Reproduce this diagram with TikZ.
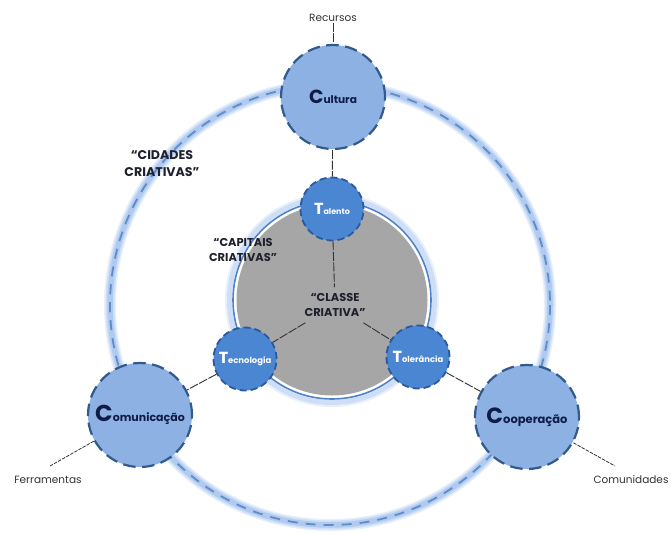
\documentclass[tikz,border=0pt]{standalone}
\usepackage{fontspec}
\setmainfont{Poppins}
\definecolor{bigfill}{RGB}{141,177,227}
\definecolor{bigline}{RGB}{50,90,140}
\definecolor{tfill}{RGB}{74,134,210}
\definecolor{tline}{RGB}{45,88,155}
\definecolor{navy}{RGB}{16,28,72}
\definecolor{txtgrey}{RGB}{50,50,55}
\definecolor{headtxt}{RGB}{30,32,45}
\definecolor{graydisc}{RGB}{166,166,166}
\definecolor{glowa}{RGB}{232,240,252}
\definecolor{glowb}{RGB}{205,222,246}
\definecolor{glowc}{RGB}{176,202,240}
\definecolor{ringdash}{RGB}{96,140,200}
\definecolor{ringline}{RGB}{80,130,200}
\tikzset{
  bignode/.style={circle,draw=bigline,fill=bigfill,line width=2.2pt,dash pattern=on 12.5pt off 6.5pt,minimum size=104pt,inner sep=0pt,text=navy,font=\bfseries},
  talnode/.style={circle,draw=tline,fill=tfill,line width=1.8pt,dash pattern=on 7pt off 4pt,minimum size=63pt,inner sep=0pt,text=white,font=\bfseries},
  plainlabel/.style={text=txtgrey,font=\fontsize{10.5}{12}\selectfont,inner sep=1pt},
  headlabel/.style={text=headtxt,font=\fontsize{11.4}{15}\selectfont\bfseries,align=center,inner sep=1pt},
  cityhead/.style={text=headtxt,font=\fontsize{12.6}{17}\selectfont\bfseries,align=center,inner sep=1pt},
  linkline/.style={draw=black!80,line width=0.9pt,dash pattern=on 9pt off 1.5pt},
  thinlink/.style={draw=black!80,line width=0.8pt,dash pattern=on 3.5pt off 1.2pt}
}
\newcommand{\capword}[4]{{\fontsize{#3}{13}\selectfont #1}{\fontsize{#4}{13}\selectfont #2}}
\begin{document}
\begin{tikzpicture}[x=1pt,y=-1pt]
\useasboundingbox (0,0) rectangle (671,533);
% outer ring
\coordinate (ringc) at (330,305);
\draw[glowa,line width=12pt] (ringc) circle (220);
\draw[glowb,line width=9pt] (ringc) circle (220);
\draw[glowc,line width=5.5pt] (ringc) circle (220);
\draw[ringdash,line width=1.8pt,dash pattern=on 10pt off 8pt] (ringc) circle (220);
% inner disc
\coordinate (discc) at (332,300);
\draw[glowa,line width=10pt] (discc) circle (102);
\draw[glowb,line width=6pt] (discc) circle (102);
\fill[white] (discc) circle (100);
\draw[ringline,line width=1.6pt] (discc) circle (99);
\fill[graydisc] (discc) circle (95.5);
% nodes
\node[bignode] (cult) at (333,97) {\capword{C}{ultura}{19}{10.6}};
\node[bignode] (comu) at (140,415) {\capword{C}{omunicação}{23}{11}};
\node[bignode] (coop) at (527,417) {\capword{C}{ooperação}{22}{11.5}};
\node[talnode] (tale) at (332,209) {\capword{T}{alento}{16}{8}};
\node[talnode] (tecn) at (245,359) {\capword{T}{ecnologia}{16}{8.4}};
\node[talnode] (tole) at (418,357) {\capword{T}{olerância}{16}{8.4}};
\node[plainlabel] (recu) at (333,18) {Recursos};
\node[plainlabel] (ferr) at (48,480) {Ferramentas};
\node[plainlabel] (comd) at (631,480) {Comunidades};
\node[cityhead] (cida) at (162,164) {“CIDADES\\CRIATIVAS”};
\node[headlabel] (capi) at (243,250) {“CAPITAIS\\CRIATIVAS”};
\node[headlabel,inner sep=6pt] (clas) at (335,305) {“CLASSE\\CRIATIVA”};
\coordinate (ferrend) at (50,466);
\coordinate (comdend) at (615,466);
% connectors
\draw[linkline] (recu) -- (cult);
\draw[linkline] (cult) -- (tale);
\draw[linkline] (tale) -- (clas);
\draw[linkline] (clas) -- (tecn);
\draw[linkline] (clas) -- (tole);
\draw[linkline] (tecn) -- (comu);
\draw[linkline] (tole) -- (coop);
\draw[thinlink] (comu) -- (ferrend);
\draw[thinlink] (coop) -- (comdend);
\end{tikzpicture}
\end{document}
